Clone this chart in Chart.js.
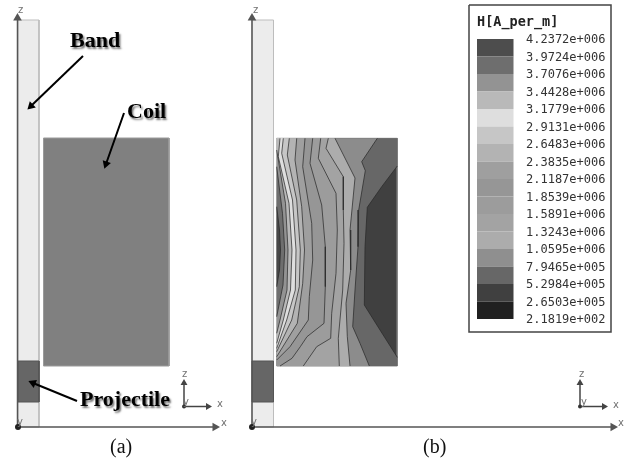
<!DOCTYPE html>
<html>
<head>
<meta charset="utf-8">
<title>H field</title>
<script src="https://cdn.jsdelivr.net/npm/chart.js@4/dist/chart.umd.js"></script>
<style>
html, body { margin: 0; padding: 0; background: #fff; }
canvas { display: block; filter: blur(0.45px); }
</style>
</head>
<body>
<canvas id="fieldChart" width="626" height="463"></canvas>
<script>
// legend
const legendLevels = ['4.2372e+006', '3.9724e+006', '3.7076e+006', '3.4428e+006', '3.1779e+006', '2.9131e+006',
    '2.6483e+006', '2.3835e+006', '2.1187e+006', '1.8539e+006', '1.5891e+006', '1.3243e+006', '1.0595e+006',
    '7.9465e+005', '5.2984e+005', '2.6503e+005', '2.1819e+002'];
const legendColors = ['#4d4d4d', '#6e6e6e', '#939393', '#b9b9b9', '#dedede', '#c6c6c6', '#b3b3b3', '#9f9f9f',
    '#969696', '#9c9c9c', '#a3a3a3', '#acacac', '#8f8f8f', '#676767', '#404040', '#202020'];

// contour lines of panel (b), right to left, as [x, z]
const c1 = [[397.3,166],[381.7,186.7],[367.3,207.3],[365,246.7],[364.3,305],[380,330],[397.3,357.3]];
const c2 = [[377.3,138.3],[361.7,161.7],[365.3,170.7],[358.7,210],[358,246.7],[355,290],[352.7,326.7],[360,343.3],[369.3,366]];
const c3 = [[335,138.3],[355,178],[350,230],[350.7,270],[346,303.3],[347.3,336.7],[350,366]];
const c4 = [[328.3,138.3],[326,148.3],[343.3,176.7],[343.3,210],[344,243.3],[342.7,290],[338.3,338.3],[339.3,366]];
const c5 = [[320.7,138.3],[318.3,158.3],[336,193.3],[337.3,230],[336,273.3],[331.7,313.3],[330.7,338.3],[316.7,346.7],[303.3,366]];
const c6 = [[312.7,138.3],[310,163.3],[321.7,205],[325.3,246.7],[325.3,286.7],[324,323.3],[307,336.7],[300.3,346.7],[292,358.3],[280,366]];
const c7 = [[305,138.3],[302.7,166.7],[311.7,223.3],[312.7,260],[309.3,296.7],[308.3,320],[290,346.7],[276.7,360]];
const c8 = [[296.7,138.3],[295,160],[301.7,206.7],[304.5,250],[302.7,283.3],[297.3,323.3],[276.7,356.7]];
const c9 = [[289.3,138.3],[287.3,155],[296.7,200],[300.3,250],[299.3,286.7],[291.7,320],[276.7,351.7]];
const c10 = [[283.3,138.3],[281.7,153.3],[292.5,200],[296,250],[295.3,290],[286.7,320],[276.7,348.3]];
const c11 = [[280,138.3],[278.3,156.7],[289,203.3],[292,250],[290.5,290],[283.3,320],[276.7,343.3]];
const c12 = [[276.7,150],[285.5,203.3],[288,250],[287,290],[280,320],[276.7,333.3]];
const c13 = [[276.7,166.7],[282.5,213.3],[284.7,250],[283,285],[276.7,316.7]];
const c14 = [[276.7,206.7],[279.5,230],[280.5,250],[279.5,270],[276.7,286.7]];
const contours = [c1, c2, c3, c4, c5, c6, c7, c8, c9, c10, c11, c12, c13, c14];
// colour to the left of each contour
const contourColors = ['#676767', '#8c8c8c', '#acacac', '#a3a3a3', '#9c9c9c', '#969696', '#9f9f9f',
    '#b3b3b3', '#c6c6c6', '#dedede', '#b9b9b9', '#939393', '#6e6e6e', '#484848'];

const datasets = [];
const add = (points, opts) => {
    // chart.js draws lowest order last
    datasets.push(Object.assign({
        data: points.map(p => ({ x: p[0], y: p[1] })),
        order: -datasets.length,
        showLine: true,
        tension: 0,
        pointRadius: 0,
        borderWidth: 0,
        fill: false
    }, opts));
};
const rect = (x0, y0, x1, y1) => [[x0, y0], [x1, y0], [x1, y1], [x0, y1], [x0, y0]];
const box = (x0, y0, x1, y1, bg, line, w) => add(rect(x0, y0, x1, y1), {
    fill: 'shape', backgroundColor: bg, borderColor: line, borderWidth: w
});
const arrow = (a, b, color, width, size) => {
    const deg = Math.atan2(b[0] - a[0], a[1] - b[1]) * 180 / Math.PI;
    add([a, b], {
        borderColor: color, borderWidth: width,
        pointRadius: [0, size], pointStyle: 'triangle', pointRotation: [0, deg],
        pointBackgroundColor: color, pointBorderColor: color, pointBorderWidth: 0
    });
};

// panel (a)
box(18, 20, 39, 427, '#ececec', '#bdbdbd', 1);
box(18, 361, 39, 402, '#666666', '#555555', 1);
box(43.5, 138, 169, 366, '#808080', '#9a9a9a', 1);
arrow([17.5, 427], [17.5, 18], '#555555', 1.5, 5);
arrow([17.5, 427], [215, 427], '#555555', 1.5, 5);
add([[18, 427]], { pointRadius: 3, backgroundColor: '#222', borderColor: '#222', showLine: false });
arrow([184, 406.5], [184, 383], '#444444', 1.5, 4);
arrow([184, 406.5], [208, 406.5], '#444444', 1.5, 4);
add([[184, 406.5]], { pointRadius: 2, backgroundColor: '#333', borderColor: '#333', showLine: false });
arrow([83, 56], [31, 106], '#000000', 2, 5);
arrow([124, 113], [106, 164], '#000000', 2, 5);
arrow([77, 401], [33, 383], '#000000', 2, 5);

// panel (b)
box(252, 20, 273.5, 427, '#ececec', '#bdbdbd', 1);
box(252, 361, 273.5, 402, '#666666', '#555555', 1);
arrow([252, 427], [252, 18], '#555555', 1.5, 5);
arrow([252, 427], [613, 427], '#555555', 1.5, 5);
add([[252, 427]], { pointRadius: 3, backgroundColor: '#222', borderColor: '#222', showLine: false });
arrow([580, 406.5], [580, 383], '#444444', 1.5, 4);
arrow([580, 406.5], [604, 406.5], '#444444', 1.5, 4);
add([[580, 406.5]], { pointRadius: 2, backgroundColor: '#333', borderColor: '#333', showLine: false });

// contour fill: each region is painted over the one right of it
const xL = 276.7, xR = 397.3, zT = 138.3, zB = 366;
box(xL, zT, xR, zB, '#404040', '#8a8a8a', 1);
contours.forEach((line, i) => {
    const first = line[0], last = line[line.length - 1];
    const pre = first[0] === xR ? [[xL, zT], [xR, zT]] : first[1] === zT ? [[xL, zT]] : [];
    const post = last[0] === xR ? [[xR, zB], [xL, zB]] : last[1] === zB ? [[xL, zB]] : [];
    const shape = pre.concat(line, post);
    add(shape.concat([shape[0]]), { fill: 'shape', backgroundColor: contourColors[i] });
});
contours.forEach(line => add(line, { borderColor: 'rgba(40,40,40,0.72)', borderWidth: 1 }));

// legend box and colour bar
box(469, 5, 611, 332, '#ffffff', '#444444', 1.5);
const barTop = 39, rowH = 17.5;
legendColors.forEach((c, i) => {
    add(rect(477, barTop + i * rowH, 513.5, barTop + (i + 1) * rowH), { fill: 'shape', backgroundColor: c });
});

const grayLabel = { font: '10px "DejaVu Sans"', color: '#707070', shadow: false };
const boldLabel = { font: 'bold 22px "Liberation Serif"', color: '#000', shadow: true };
const captionLabel = { font: '20px "Liberation Serif"', color: '#111', shadow: false };

const textLabels = [
    ['Band', 70, 47, boldLabel], ['Coil', 127, 118, boldLabel], ['Projectile', 80, 406, boldLabel],
    ['(a)', 110, 453, captionLabel], ['(b)', 423, 453, captionLabel],
    ['z', 18, 13, grayLabel], ['y', 17, 425, grayLabel], ['x', 221, 426, grayLabel],
    ['z', 182, 377, grayLabel], ['y', 183, 405, grayLabel], ['x', 217, 407, grayLabel],
    ['z', 253, 13, grayLabel], ['y', 251, 425, grayLabel], ['x', 618, 426, grayLabel],
    ['z', 579, 377, grayLabel], ['y', 581, 405, grayLabel], ['x', 613, 408, grayLabel]
];

const textPlugin = {
    id: 'textPlugin',
    afterDatasetsDraw(chart) {
        const { ctx, scales: { x, y } } = chart;
        ctx.save();
        ctx.textBaseline = 'alphabetic';
        textLabels.forEach(([text, px, pz, style]) => {
            ctx.font = style.font;
            ctx.fillStyle = style.color;
            if (style.shadow) {
                ctx.shadowColor = 'rgba(0,0,0,0.55)';
                ctx.shadowOffsetX = 1.5;
                ctx.shadowOffsetY = 1.5;
                ctx.shadowBlur = 2;
            } else {
                ctx.shadowColor = 'transparent';
            }
            ctx.fillText(text, x.getPixelForValue(px), y.getPixelForValue(pz));
        });
        ctx.shadowColor = 'transparent';
        ctx.fillStyle = '#222';
        ctx.font = 'bold 13.5px "DejaVu Sans Mono"';
        ctx.fillText('H[A_per_m]', x.getPixelForValue(477), y.getPixelForValue(26));
        ctx.font = '12px "DejaVu Sans Mono"';
        ctx.fillStyle = '#333';
        legendLevels.forEach((label, i) => {
            ctx.fillText(label, x.getPixelForValue(526), y.getPixelForValue(barTop + i * rowH + 4));
        });
        ctx.restore();
    }
};

new Chart('fieldChart', {
    type: 'scatter',
    data: { datasets },
    options: {
        responsive: false,
        animation: false,
        layout: { padding: 0, autoPadding: false },
        plugins: { legend: { display: false }, tooltip: { enabled: false } },
        scales: {
            x: { type: 'linear', min: 0, max: 626, display: false },
            y: { type: 'linear', min: 0, max: 463, reverse: true, display: false }
        }
    },
    plugins: [textPlugin]
});
</script>
</body>
</html>
